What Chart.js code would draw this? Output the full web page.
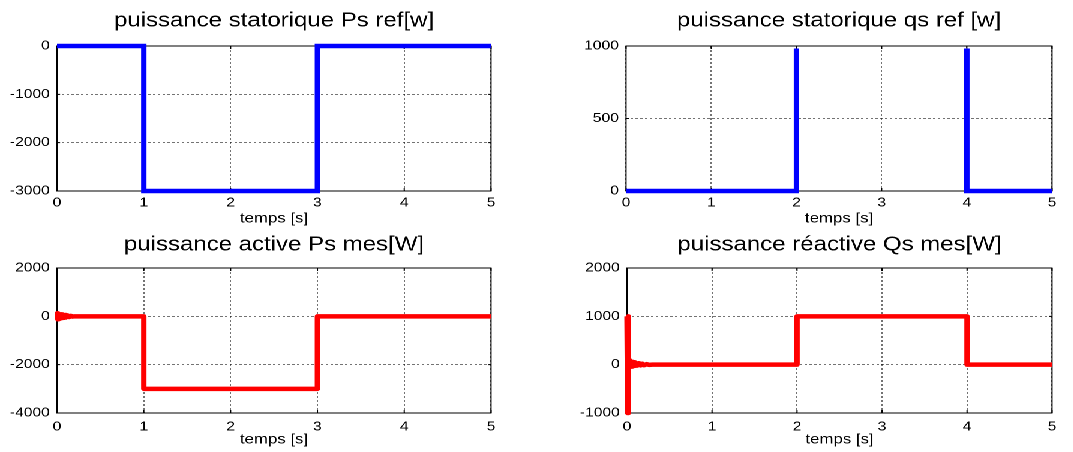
<!DOCTYPE html>
<html>
<head>
<meta charset="utf-8">
<title>puissances statoriques</title>
<script src="https://cdn.jsdelivr.net/npm/chart.js@4.4.1/dist/chart.umd.min.js"></script>
<style>
  html, body { margin: 0; padding: 0; background: #ffffff; overflow: hidden; }
  /* the figure is laid out on a narrower sheet and widened horizontally */
  #stage { position: absolute; left: 0; top: 0; width: 894px; height: 452px;
           transform: scaleX(1.2); transform-origin: 0 0; }
  #stage canvas { position: absolute; }
</style>
</head>
<body>
<div id="stage">
  <canvas id="psRef" width="450" height="232" style="left:0px;top:0px"></canvas>
  <canvas id="qsRef" width="444" height="232" style="left:450px;top:0px"></canvas>
  <canvas id="psMes" width="450" height="226" style="left:0px;top:226px"></canvas>
  <canvas id="qsMes" width="444" height="226" style="left:450px;top:226px"></canvas>
</div>
<script>
// ---- time axis -------------------------------------------------------------
const timeTicks = [0, 1, 2, 3, 4, 5];

// ---- reference active power Ps ref [W] -------------------------------------
const psRefTime  = [0, 1, 1, 3, 3, 5];
const psRefValue = [0, 0, -3000, -3000, 0, 0];
const psRefTicks = [-3000, -2000, -1000, 0];

// ---- reference reactive power Qs ref [W] -----------------------------------
const qsRefTime  = [0, 2, 2, 4, 4, 5];
const qsRefValue = [0, 0, 1000, 1000, 0, 0];
const qsRefTicks = [0, 500, 1000];

// ---- measured active power Ps mes [W] (start-up ripple, then steps) --------
const psMesTime  = [0, 0.005, 0.01, 0.015, 0.02, 0.03, 0.04, 0.05, 0.06, 0.07,
                    0.08, 0.09, 0.1, 0.12, 0.14, 0.16, 0.18, 0.2,
                    1, 1, 3, 3, 5];
const psMesValue = [0, 130, -120, 110, -100, 90, -85, 80, -70, 65,
                    -60, 55, -50, 40, -30, 20, -10, 0,
                    0, -3000, -3000, 0, 0];
const psMesTicks = [-4000, -2000, 0, 2000];

// ---- measured reactive power Qs mes [W] (start-up spike, then steps) -------
const qsMesTime  = [0, 0.008, 0.012, 0.016, 0.02, 0.025, 0.03, 0.035, 0.04, 0.05,
                    0.06, 0.07, 0.08, 0.09, 0.1, 0.12, 0.14, 0.16, 0.18, 0.2,
                    0.23, 0.26, 0.3,
                    2, 2, 4, 4, 5];
const qsMesValue = [1000, -1000, 1000, -1000, 80, -40, 90, -30, 70, -40,
                    60, -30, 50, -25, 40, -20, 30, -15, 20, -10,
                    10, -5, 0,
                    0, 1000, 1000, 0, 0];
const qsMesTicks = [-1000, 0, 1000, 2000];

// ---- shared look -------------------------------------------------------------
const FONT = "'Liberation Sans', Arial, Helvetica, sans-serif";
const BLUE = '#0000ff';
const RED  = '#ff0000';

// Axes box with inward tick marks on all four sides.
const axesBox = {
  id: 'axesBox',
  beforeDatasetsDraw(chart) {
    const { ctx, chartArea: a, scales: { x, y } } = chart;
    ctx.save();
    ctx.strokeStyle = '#000000';
    ctx.lineWidth = 1;
    ctx.strokeRect(a.left, a.top, a.right - a.left, a.bottom - a.top);
    ctx.beginPath();
    const tx = 3, ty = 2.6;
    x.ticks.forEach(t => {
      const px = x.getPixelForValue(t.value);
      ctx.moveTo(px, a.bottom); ctx.lineTo(px, a.bottom - tx);
      ctx.moveTo(px, a.top);    ctx.lineTo(px, a.top + tx);
    });
    y.ticks.forEach(t => {
      const py = y.getPixelForValue(t.value);
      ctx.moveTo(a.left, py);  ctx.lineTo(a.left + ty, py);
      ctx.moveTo(a.right, py); ctx.lineTo(a.right - ty, py);
    });
    ctx.stroke();
    ctx.restore();
  }
};

function points(ts, vs) {
  return ts.map((t, i) => ({ x: t, y: vs[i] }));
}

function panel(id, o) {
  const yTicks = o.yTicks;
  return new Chart(document.getElementById(id), {
    type: 'line',
    data: {
      datasets: [{
        data: points(o.time, o.value),
        borderColor: o.color,
        borderWidth: 4.5,
        borderJoinStyle: o.join,
        pointRadius: 0,
        fill: false,
        tension: 0,
        clip: o.clip
      }]
    },
    options: {
      responsive: false,
      animation: false,
      devicePixelRatio: 2,
      events: [],
      layout: { padding: { left: 0, right: o.padRight, top: 0, bottom: 0 } },
      plugins: {
        legend: { display: false },
        tooltip: { enabled: false },
        title: {
          display: true,
          fullSize: false,
          text: o.title,
          color: '#000000',
          font: { family: FONT, size: 20, weight: 'normal' },
          padding: { top: o.titleTop, bottom: o.titleBottom }
        }
      },
      scales: {
        x: {
          type: 'linear',
          min: 0, max: 5,
          afterBuildTicks: s => { s.ticks = timeTicks.map(v => ({ value: v })); },
          afterFit: s => { s.height = o.xHeight; },
          ticks: {
            color: '#000000',
            font: { family: FONT, size: 13 },
            padding: o.xTickPad,
            maxRotation: 0,
            callback: v => String(v)
          },
          grid: { color: 'rgba(0,0,0,0.55)', lineWidth: 1, drawTicks: false },
          border: { display: false, dash: [2, 2] },
          title: {
            display: true,
            text: 'temps [s]',
            color: '#000000',
            font: { family: FONT, size: 14 },
            padding: { top: 0, bottom: o.xTitleBottom }
          }
        },
        y: {
          type: 'linear',
          min: yTicks[0], max: yTicks[yTicks.length - 1],
          afterBuildTicks: s => { s.ticks = yTicks.map(v => ({ value: v })); },
          afterFit: s => { s.width = o.yWidth; },
          ticks: {
            color: '#000000',
            font: { family: FONT, size: 13 },
            padding: 6,
            callback: v => String(v)
          },
          grid: { color: 'rgba(0,0,0,0.55)', lineWidth: 1, drawTicks: false },
          border: { display: false, dash: [2, 2] }
        }
      }
    },
    plugins: [axesBox]
  });
}

panel('psRef', {
  title: 'puissance statorique Ps ref[w]',
  time: psRefTime, value: psRefValue, yTicks: psRefTicks,
  color: BLUE, join: 'miter', clip: false,
  yWidth: 47.5, padRight: 40.8, titleTop: 9, titleBottom: 13,
  xHeight: 41, xTickPad: 4, xTitleBottom: 5
});

panel('qsRef', {
  title: 'puissance statorique qs ref [w]',
  time: qsRefTime, value: qsRefValue, yTicks: qsRefTicks,
  color: BLUE, join: 'miter', clip: { left: 5, right: 5, top: -2.5, bottom: 5 },
  yWidth: 71.7, padRight: 17.3, titleTop: 9, titleBottom: 13,
  xHeight: 41, xTickPad: 4, xTitleBottom: 5
});

panel('psMes', {
  title: 'puissance active Ps mes[W]',
  time: psMesTime, value: psMesValue, yTicks: psMesTicks,
  color: RED, join: 'round', clip: false,
  yWidth: 47.5, padRight: 40.8, titleTop: 7, titleBottom: 11,
  xHeight: 39, xTickPad: 6, xTitleBottom: 4
});

panel('qsMes', {
  title: 'puissance réactive Qs mes[W]',
  time: qsMesTime, value: qsMesValue, yTicks: qsMesTicks,
  color: RED, join: 'round', clip: false,
  yWidth: 72.5, padRight: 17.3, titleTop: 7, titleBottom: 11,
  xHeight: 39, xTickPad: 6, xTitleBottom: 4
});
</script>
</body>
</html>
